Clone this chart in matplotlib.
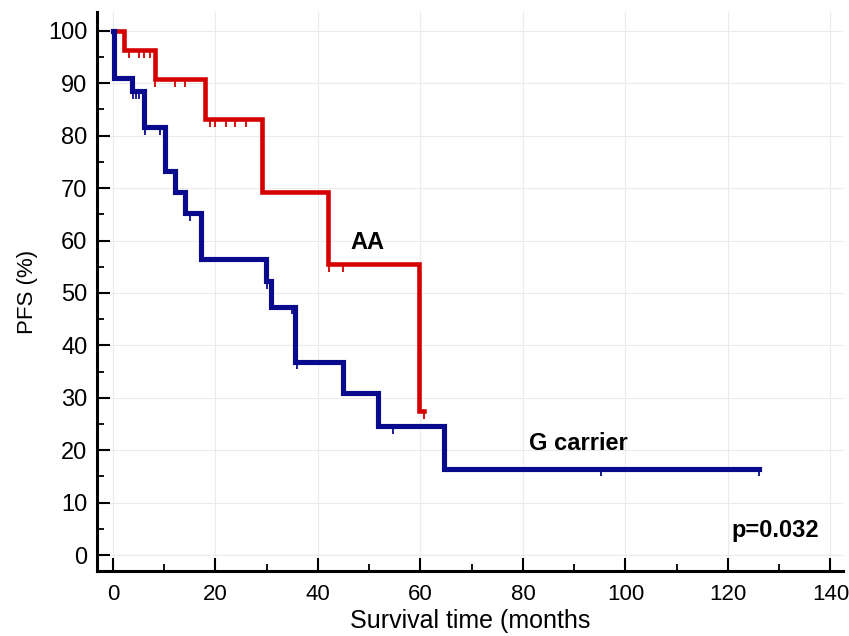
"""Kaplan-Meier style PFS curves for AA vs G carrier."""

import matplotlib

matplotlib.use("Agg")
import matplotlib.pyplot as plt
import numpy as np
from matplotlib.ticker import MultipleLocator

# AA group: step times (months) and PFS levels (%)
aa_times = [0, 2.2, 8.2, 18.0, 29.0, 42.0, 59.7, 60.7]
aa_levels = [100, 96.4, 90.8, 83.2, 69.3, 55.5, 27.4, 27.4]
aa_censored = [3.2, 5.1, 6.1, 7.2, 8.3, 12.1, 14.0, 19.0, 20.0, 22.0, 23.9, 26.0,
               42.1, 44.8, 60.7]

# G carrier group
g_times = [0, 0.2, 3.8, 6.0, 10.1, 12.1, 14.1, 17.1, 29.8, 30.9, 35.6, 44.8, 51.7, 64.6, 126.0]
g_levels = [100, 91.0, 88.5, 81.6, 73.2, 69.3, 65.2, 56.5, 52.3, 47.4, 36.9, 30.9, 24.6, 16.5, 16.5]
g_censored = [4.0, 4.5, 5.0, 6.3, 9.2, 15.0, 30.0, 34.9, 36.0, 54.7, 95.3, 126.0]

RED = "#d40000"
BLUE = "#0a0a8c"
FONT = ["Liberation Sans", "DejaVu Sans"]


def level_at(times, levels, t):
    idx = np.searchsorted(np.asarray(times), t, side="right") - 1
    return np.asarray(levels)[idx]


def draw_curve(ax, times, levels, censored, color, lw):
    ax.step(times, levels, where="post", color=color, lw=lw, solid_joinstyle="miter", zorder=3)
    ys = level_at(times, levels, np.asarray(censored))
    ax.vlines(censored, ys - 1.5, ys, color=color, lw=1.3, zorder=3)


def main() -> None:
    fig = plt.figure(figsize=(8.49, 6.36), dpi=100)
    ax = fig.add_axes([0.1143, 0.1022, 0.879, 0.879])

    draw_curve(ax, aa_times, aa_levels, aa_censored, RED, 3.3)
    draw_curve(ax, g_times, g_levels, g_censored, BLUE, 3.7)

    ax.set_xlim(-3.1, 142.5)
    ax.set_ylim(-3.05, 103.6)
    ax.xaxis.set_major_locator(MultipleLocator(20))
    ax.xaxis.set_minor_locator(MultipleLocator(10))
    ax.yaxis.set_major_locator(MultipleLocator(10))
    ax.yaxis.set_minor_locator(MultipleLocator(5))
    ax.grid(True, which="major", color="#ebebeb", lw=0.8, zorder=0)

    for side in ("top", "right"):
        ax.spines[side].set_visible(False)
    for side in ("left", "bottom"):
        ax.spines[side].set_linewidth(2.2)
    ax.tick_params(which="major", direction="in", length=9.5, width=1.5)
    ax.tick_params(which="minor", direction="in", length=5, width=1.3)
    ax.tick_params(axis="x", which="major", pad=9)
    ax.tick_params(axis="y", which="major", pad=7)

    for lab in ax.get_yticklabels():
        lab.set_fontfamily(FONT)
        lab.set_fontsize(17)
    for lab in ax.get_xticklabels():
        lab.set_fontfamily(FONT)
        lab.set_fontsize(16)

    ax.set_ylabel("PFS (%)", fontsize=16, family=FONT, labelpad=7)
    ax.set_xlabel("Survival time (months", fontsize=18, family=FONT, labelpad=3)

    bold = dict(fontsize=17, fontweight="bold", family=FONT, ha="center", va="center")
    ax.text(49.6, 59.7, "AA", **bold)
    ax.text(90.9, 21.2, "G carrier", **bold)
    ax.text(129.3, 4.6, "p=0.032", **bold)

    fig.savefig("out.png", dpi=100)
    plt.close(fig)


if __name__ == "__main__":
    main()
